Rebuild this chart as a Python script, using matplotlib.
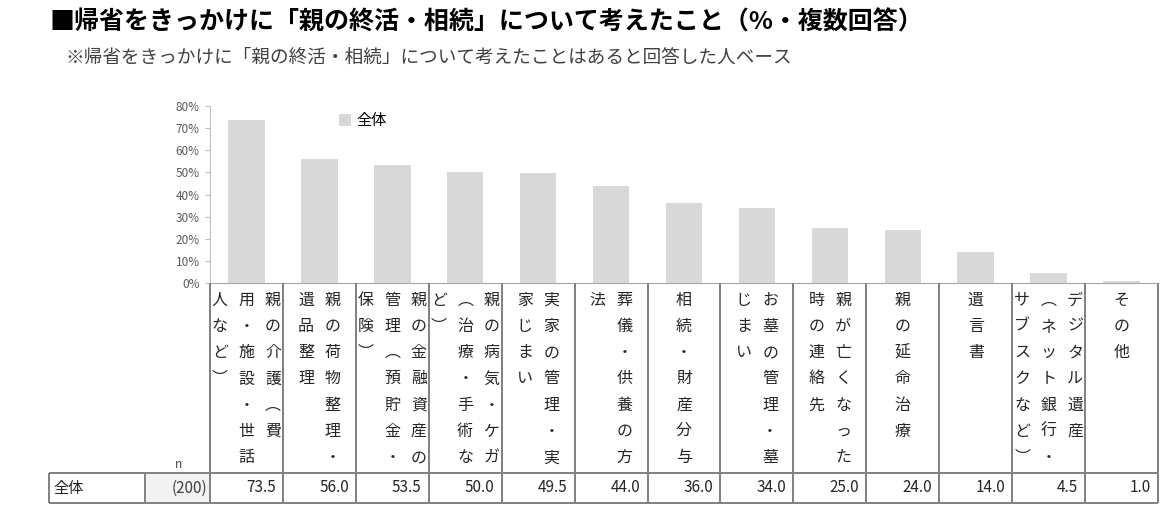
import numpy as np
import matplotlib.pyplot as plt
from matplotlib.patches import Rectangle

plt.rcParams['font.family'] = ['Noto Sans CJK JP', 'DejaVu Sans']

title = '■帰省をきっかけに「親の終活・相続」について考えたこと（%・複数回答）'
subtitle = '※帰省をきっかけに「親の終活・相続」について考えたことはあると回答した人ベース'

# category labels, written vertically: list of columns, right column first
labels = [
    ['親の介護︵費', '用・施設・世話', '人など︶'],
    ['親の荷物整理・', '遺品整理'],
    ['親の金融資産の', '管理︵預貯金・', '保険︶'],
    ['親の病気・ケガ', '︵治療・手術な', 'ど︶'],
    ['実家の管理・実', '家じまい'],
    ['葬儀・供養の方', '法'],
    ['相続・財産分与'],
    ['お墓の管理・墓', 'じまい'],
    ['親が亡くなった', '時の連絡先'],
    ['親の延命治療'],
    ['遺言書'],
    ['デジタル遺産', '︵ネット銀行・', 'サブスクなど︶'],
    ['その他'],
]
values = [73.5, 56.0, 53.5, 50.0, 49.5, 44.0, 36.0, 34.0, 25.0, 24.0, 14.0, 4.5, 1.0]
series_name = '全体'
n_total = 200
yticks = [0, 10, 20, 30, 40, 50, 60, 70, 80]

W, H = 1165, 515
def box(l, t, r, b):
    return [l / W, 1 - b / H, (r - l) / W, (b - t) / H]

fig = plt.figure(figsize=(W / 100, H / 100), dpi=100)
fig.text(50 / W, 1 - 22 / H, title, fontsize=18, fontweight='bold', va='center', ha='left')
fig.text(65 / W, 1 - 58 / H, subtitle, fontsize=13.4, color='#404040', va='center', ha='left')

x = np.arange(len(values))
unit_px = (1158 - 210) / len(values)
grid_c = '#808080'

# bar chart
ax = fig.add_axes(box(210, 106, 1158, 283))
ax.bar(x, values, width=0.5, color='#d9d9d9', label=series_name)
ax.set_xlim(-0.5, len(values) - 0.5)
ax.set_ylim(0, 80)
ax.set_yticks(yticks)
ax.set_yticklabels(['{}%'.format(v) for v in yticks])
ax.set_xticks([])
ax.tick_params(axis='y', length=3.5, width=0.8, color='#bfbfbf', labelsize=8.5,
               labelcolor='#595959', pad=4)
for s in ['top', 'right']:
    ax.spines[s].set_visible(False)
ax.spines['left'].set_color('#bfbfbf')
ax.spines['bottom'].set_color('#a6a6a6')
ax.legend(loc='center left', bbox_to_anchor=(339 / W, 1 - 121 / H), bbox_transform=fig.transFigure,
          frameon=False, fontsize=11, handlelength=0.8, handleheight=0.8,
          handletextpad=0.35, borderpad=0, borderaxespad=0)

# vertical category labels
lax = fig.add_axes(box(210, 283, 1158, 473))
lax.set_xlim(-0.5, len(values) - 0.5)
lax.set_ylim(190, 0)
lax.axis('off')
step = 26.5 / unit_px
for i, cols in enumerate(labels):
    n = len(cols)
    for j, col in enumerate(cols):
        xc = i + ((n - 1) / 2 - j) * step
        for k, ch in enumerate(col):
            lax.text(xc, 17 + 26.3 * k, ch, ha='center', va='center', fontsize=11.5, color='#262626')
lax.vlines(np.arange(-0.5, len(values)), 0, 190, color=grid_c, lw=1.4, clip_on=False)
lax.text(-0.5 - 32 / unit_px, 182, 'n', ha='center', va='center', fontsize=8.5, color='#404040', clip_on=False)

# value table row
tax = fig.add_axes(box(49, 473, 1158, 503))
x0 = -0.5 - (210 - 49) / unit_px
xn = -0.5 - (210 - 145) / unit_px
tax.set_xlim(x0, len(values) - 0.5)
tax.set_ylim(0, 1)
tax.axis('off')
tax.add_patch(Rectangle((xn, 0), -0.5 - xn, 1, color='#f2f2f2', lw=0))
tax.vlines([x0, xn] + list(np.arange(-0.5, len(values))), 0, 1, color=grid_c, lw=1.4, clip_on=False)
tax.hlines([0, 1], x0, len(values) - 0.5, color=grid_c, lw=1.4, clip_on=False)
tax.text(x0 + 4 / unit_px, 0.5, series_name, ha='left', va='center', fontsize=11, color='#262626')
tax.text(-0.5 - 3 / unit_px, 0.5, '({})'.format(n_total), ha='right', va='center', fontsize=11, color='#404040')
for i, v in enumerate(values):
    tax.text(i + 0.5 - 7 / unit_px, 0.5, '{:.1f}'.format(v), ha='right', va='center', fontsize=11, color='#262626')

fig.savefig('out.png', dpi=100)
